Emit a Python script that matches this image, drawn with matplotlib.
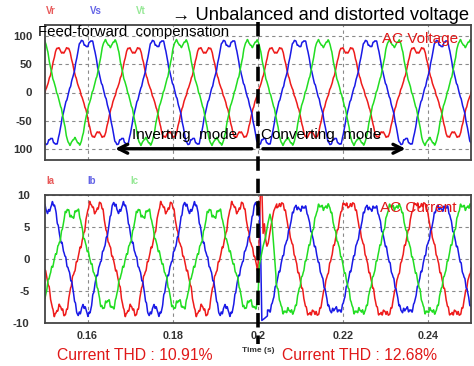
import numpy as np
import matplotlib
matplotlib.use('Agg')
import matplotlib.pyplot as plt
from matplotlib.transforms import blended_transform_factory

# ---------------- data ----------------
freq_hz = 60.0
time_range = [0.15, 0.25]
x_ticks = [0.16, 0.18, 0.2, 0.22, 0.24]
x_tick_labels = ['0.16', '0.18', '0.2', '0.22', '0.24']
v_ticks = [100, 50, 0, -50, -100]
v_tick_labels = ['100', '50', '0', '-50', '100']
i_ticks = [10, 5, 0, -5, -10]
i_tick_labels = ['10', '5', '0', '-5', '-10']

phase_names_v = ['Vr', 'Vs', 'Vt']
phase_names_i = ['Ia', 'Ib', 'Ic']
phase_shift_deg = [0, -120, 120]

# voltages (unbalanced + distorted), fundamental amplitude per phase
v_amp = [80, 93, 93]
v_h5 = [-0.09, -0.09, -0.09]
v_h7 = [0.035, 0.035, 0.035]

# currents before 0.2 s (inverting mode): opposite to voltage, slight lead
i_pre_amp = [8.6, 8.6, 7.6]
i_pre_lead_deg = [15, 15, 12]
i_pre_h5 = [-0.10, -0.10, -0.10]
i_pre_h7 = [0.05, 0.05, 0.05]

# currents after the transient (converting mode): in phase, slight lag
i_post_amp = [8.9, 8.4, 8.6]
i_post_lag_deg = [10, 3, 4]
i_post_h5 = [-0.05, -0.05, -0.05]
i_post_h7 = [0.03, 0.03, 0.03]

# transient samples right after the mode change at 0.2 s
tr_a_t = [0.2000, 0.2003, 0.2006, 0.2009, 0.2012, 0.2015, 0.2018, 0.2021, 0.2024, 0.2030, 0.2037, 0.2044]
tr_a_v = [-1.0, 3.0, 11.5, 11.0, 4.0, 5.5, 3.0, 2.0, 2.5, 5.0, 7.5, 8.6]
tr_b_t = [0.2000, 0.2003, 0.2006, 0.2009, 0.2015, 0.2022]
tr_b_v = [7.0, 8.0, 2.0, -9.6, -9.3, -8.9]
tr_c_t = [0.2000, 0.2003, 0.2006, 0.2012, 0.2018, 0.2023, 0.2028, 0.2033, 0.2038, 0.2042]
tr_c_v = [-6.0, -1.0, 0.0, 2.0, 3.5, 5.5, 7.0, 5.5, 1.0, -2.5]
transient_t = [tr_a_t, tr_b_t, tr_c_t]
transient_v = [tr_a_v, tr_b_v, tr_c_v]

# small switching ripple
ripple_freq_hz = [1260, 2220]
v_ripple_rel = [0.012, 0.008]
i_ripple_abs = [0.22, 0.14]

colors = ['#ee1c1c', '#1a1ae6', '#22dd22']
label_colors = ['#e85a5a', '#6464e6', '#96e896']

# ---------------- build waveforms ----------------
t = np.arange(time_range[0], time_range[1] + 1e-9, 2e-5)


def shape(th, h5, h7):
    return np.sin(th) + h5 * np.sin(5 * th) + h7 * np.sin(7 * th)


def ripple(tt, k, scale):
    return (scale[0] * np.sin(2 * np.pi * ripple_freq_hz[0] * tt + 1.1 * k)
            + scale[1] * np.sin(2 * np.pi * ripple_freq_hz[1] * tt + 2.3 * k))


theta = 2 * np.pi * freq_hz * (t - time_range[0])

plt.rcParams['font.family'] = ['Liberation Sans', 'DejaVu Sans']
fig = plt.figure(figsize=(4.74, 3.66), dpi=100)
ax1 = fig.add_axes([45 / 474, 1 - 160 / 366, 426 / 474, 135 / 366])
ax2 = fig.add_axes([45 / 474, 1 - 323 / 366, 426 / 474, 128 / 366])

for k in range(3):
    ph = np.deg2rad(phase_shift_deg[k])
    v = v_amp[k] * (shape(theta + ph, v_h5[k], v_h7[k]) + ripple(t, k, v_ripple_rel))
    ax1.plot(t, v, color=colors[k], lw=1.1)

for k in range(3):
    ph = np.deg2rad(phase_shift_deg[k])
    m_pre = t < 0.2
    t_pre = t[m_pre]
    th_pre = theta[m_pre]
    i_pre = -i_pre_amp[k] * shape(th_pre + ph + np.deg2rad(i_pre_lead_deg[k]),
                                   i_pre_h5[k], i_pre_h7[k]) + ripple(t_pre, k, i_ripple_abs)
    t_sw = transient_t[k][-1]
    m_post = t > t_sw
    t_post = t[m_post]
    th_post = theta[m_post]
    i_post = i_post_amp[k] * shape(th_post + ph - np.deg2rad(i_post_lag_deg[k]),
                                    i_post_h5[k], i_post_h7[k]) + ripple(t_post, k, i_ripple_abs)
    tt = np.concatenate([t_pre, transient_t[k], t_post])
    ii = np.concatenate([i_pre, transient_v[k], i_post])
    ax2.plot(tt, ii, color=colors[k], lw=1.1)

# ---------------- axes styling ----------------
for ax, ticks, labels, lim, pad in [(ax1, v_ticks, v_tick_labels, (-120, 120), 9),
                                    (ax2, i_ticks, i_tick_labels, (-10, 10), 11)]:
    ax.set_xlim(time_range)
    ax.set_ylim(lim)
    ax.set_xticks(x_ticks)
    ax.set_yticks(ticks)
    ax.set_yticklabels(labels)
    ax.tick_params(axis='y', length=0, pad=pad, labelsize=8.2, labelcolor='#333333')
    ax.tick_params(axis='x', length=0, pad=6, labelsize=7.8, labelcolor='#333333')
    for lab in ax.get_yticklabels():
        lab.set_fontweight('bold')
    ax.grid(True, color='#8a8a8a', linestyle=(0, (3, 3)), lw=0.8)
    for s in ax.spines.values():
        s.set_color('#444444')
        s.set_linewidth(1.3)

ax1.set_xticklabels([])
ax2.set_xticklabels(x_tick_labels)
for lab in ax2.get_xticklabels():
    lab.set_fontweight('bold')

# ---------------- texts ----------------
for k in range(3):
    fig.text((51 + 45 * k) / 474, 1 - 11 / 366, phase_names_v[k], color=label_colors[k],
             fontsize=7, fontweight='bold', ha='center', va='center')
    fig.text((50 + 42 * k) / 474, 1 - 181 / 366, phase_names_i[k], color=label_colors[k],
             fontsize=7, fontweight='bold', ha='center', va='center')

fig.text(172 / 474, 1 - 16 / 366, '→ Unbalanced and distorted voltage', fontsize=13.2,
         color='black', ha='left', va='center')
fig.text(38 / 474, 1 - 32 / 366, 'Feed-forward  compensation', fontsize=10.8,
         color='black', ha='left', va='center')
fig.text(382 / 474, 1 - 39 / 366, 'AC Voltage', fontsize=11, color='#e01818',
         ha='left', va='center')
fig.text(380 / 474, 1 - 208 / 366, 'AC Current', fontsize=11, color='#e01818',
         ha='left', va='center')

ax1.text(0.1705, -75, 'Inverting  mode', fontsize=11, ha='left', va='center')
ax1.text(0.2008, -75, 'Converting  mode', fontsize=11, ha='left', va='center')
ax1.annotate('', xy=(0.1658, -100), xytext=(0.1992, -100),
             arrowprops=dict(arrowstyle='->', lw=2.4, color='black', mutation_scale=16))
ax1.annotate('', xy=(0.2353, -100), xytext=(0.2005, -100),
             arrowprops=dict(arrowstyle='->', lw=2.4, color='black', mutation_scale=16))

fig.text(57 / 474, 1 - 355 / 366, 'Current THD : 10.91%', fontsize=11.3, color='#e01818',
         ha='left', va='center')
fig.text(282 / 474, 1 - 355 / 366, 'Current THD : 12.68%', fontsize=11.3, color='#e01818',
         ha='left', va='center')
fig.text(258 / 474, 1 - 351 / 366, 'Time (s)', fontsize=6, color='#333333',
         fontweight='bold', ha='center', va='center')

# vertical dashed mode-change line spanning both panels
trans = blended_transform_factory(ax1.transData, fig.transFigure)
fig.add_artist(plt.Line2D([0.2, 0.2], [1 - 22 / 366, 1 - 344 / 366], transform=trans,
                          color='black', lw=2.6, linestyle=(0, (4, 2.2))))

fig.savefig('out.png', dpi=100)
